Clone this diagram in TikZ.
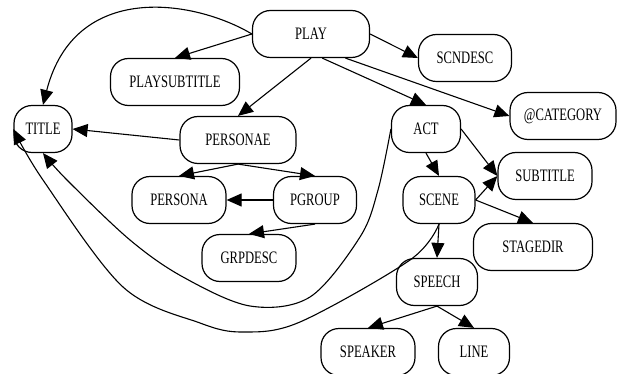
\documentclass[tikz,border=0pt]{standalone}
\usepackage{fontspec}
\setmainfont{Liberation Serif}[FakeStretch=0.72]
\usetikzlibrary{arrows.meta}
\begin{document}
\begin{tikzpicture}[x=1pt,y=-1pt,
  box/.style={draw, line width=1.2pt, rounded corners=18pt, minimum height=47pt,
    inner sep=0pt, font=\fontsize{17.5}{17.5}\selectfont},
  conn/.style={-{Triangle[length=15pt,width=13pt]}, line width=1.1pt}]
\useasboundingbox (0,0) rectangle (618,374);

% element nodes
\node[box, minimum width=117pt] (play)     at (311,34)  {PLAY};
\node[box, minimum width=129pt] (psub)     at (175,82)  {PLAYSUBTITLE};
\node[box, minimum width=93pt]  (scndesc)  at (465,58)  {SCNDESC};
\node[box, minimum width=58pt]  (title)    at (43,129)  {TITLE};
\node[box, minimum width=116pt] (personae) at (238,140) {PERSONAE};
\node[box, minimum width=69pt]  (act)      at (426,129) {ACT};
\node[box, minimum width=106pt] (cat)      at (563,116) {@CATEGORY};
\node[box, minimum width=94pt]  (subtitle) at (545,176) {SUBTITLE};
\node[box, minimum width=94pt]  (persona)  at (179,200) {PERSONA};
\node[box, minimum width=83pt]  (pgroup)   at (315,200) {PGROUP};
\node[box, minimum width=72pt]  (scene)    at (439,200) {SCENE};
\node[box, minimum width=119pt] (stagedir) at (533,247) {STAGEDIR};
\node[box, minimum width=94pt]  (grpdesc)  at (249,258) {GRPDESC};
\node[box, minimum width=81pt]  (speech)   at (437,282) {SPEECH};
\node[box, minimum width=94pt]  (speaker)  at (368,352) {SPEAKER};
\node[box, minimum width=71pt]  (line)     at (474,352) {LINE};

% straight connectors
\draw[conn] (play.west) -- (psub.north);
\draw[conn] (play.south) -- (personae.north);
\draw[conn] (play.east) -- (scndesc.west);
\draw[conn] (play.-65) -- (act.north);
\draw[conn] (play.-35) -- (cat.west);
\draw[conn] (personae.west) -- (title.east);
\draw[conn] (personae.south) -- (persona.north);
\draw[conn] (personae.south) -- (pgroup.north);
\draw[conn] (pgroup.west) -- (persona.east);
\draw[conn] (pgroup.south) -- (grpdesc.north);
\draw[conn] (act.south) -- (scene.north);
\draw[conn] (act.east) -- (subtitle.west);
\draw[conn] (scene.east) -- (subtitle.west);
\draw[conn] (scene.east) -- (stagedir.north);
\draw[conn] (scene.south) -- (speech.north);
\draw[conn] (speech.south) -- (speaker.north);
\draw[conn] (speech.south) -- (line.north);

% curved connectors into TITLE
\draw[conn] (play.west) .. controls (195,0) and (75,-20) .. (title.north);
\draw[conn] plot[smooth, tension=0.55] coordinates {(act.west) (378,190) (360,237)
  (310,297) (250,306) (183,277) (130,240) (67,180) (title.south)};
\draw[conn] plot[smooth, tension=0.55] coordinates {(scene.south) (410,260) (300,322)
  (243,332) (200,323) (123,287) (43,180) (title.west)};
\end{tikzpicture}
\end{document}
